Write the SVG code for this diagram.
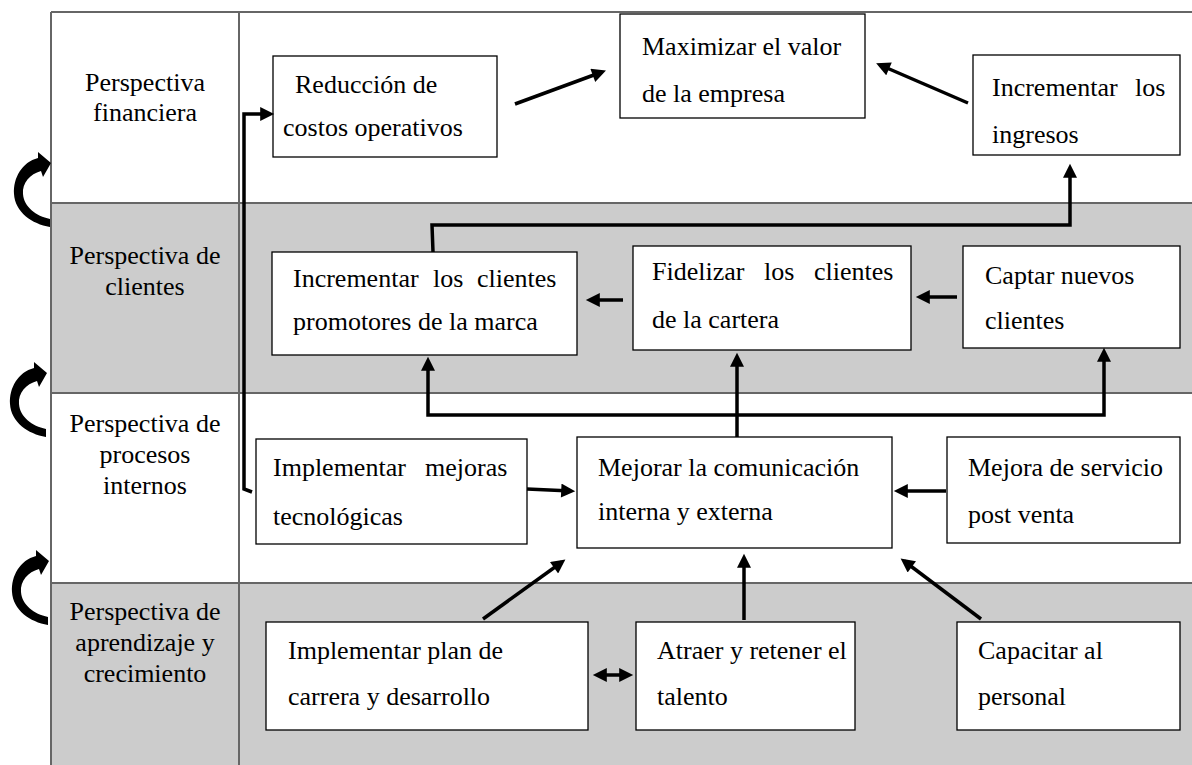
<svg xmlns="http://www.w3.org/2000/svg" width="1192" height="765" viewBox="0 0 1192 765">
<style>
.grid{stroke:#666;stroke-width:2;fill:none}
.band{fill:#cccccc}
.box{fill:#fff;stroke:#000;stroke-width:1.3}
.t{font-family:"Liberation Serif","Times New Roman",serif;font-size:26px;fill:#000}
.lbl{text-anchor:middle}
.c{fill:none;stroke:#000;stroke-width:3.5;marker-end:url(#ah)}
.curl{fill:#000}
</style>
<defs>
<marker id="ah" viewBox="0 0 10 10" refX="7" refY="5" markerUnits="userSpaceOnUse" markerWidth="16" markerHeight="14" orient="auto-start-reverse">
<path d="M0,0 L10,5 L0,10 Z" fill="#000"/>
</marker>
<path id="curl" d="M51,163 L38,152 L38,158 C22,162 13,178 14,194 C15,212 32,224 50,227 L50,219 C36,216 24,207 23,194 C22,183 30,174 41,171 L43,177 Z"/>
</defs>
<rect width="1192" height="765" fill="#fff"/>
<g id="table">
<rect class="band" x="51" y="203" width="1141" height="190"/>
<rect class="band" x="51" y="583" width="1141" height="182"/>
<path class="grid" d="M51,12 H1192 M51,203 H1192 M51,393 H1192 M51,583 H1192 M51,12 V765 M239,12 V765"/>
</g>
<g id="labels" class="t lbl">
<text x="145" y="91">Perspectiva</text>
<text x="145" y="121">financiera</text>
<text x="145" y="264">Perspectiva de</text>
<text x="145" y="295">clientes</text>
<text x="145" y="432">Perspectiva de</text>
<text x="145" y="463">procesos</text>
<text x="145" y="494">internos</text>
<text x="145" y="620">Perspectiva de</text>
<text x="145" y="651">aprendizaje y</text>
<text x="145" y="682">crecimiento</text>
</g>
<g id="cycle-arrows" class="curl">
<use href="#curl"/>
<use href="#curl" transform="translate(-4,210)"/>
<use href="#curl" transform="translate(-2,398)"/>
</g>
<g id="n-reduccion">
<rect class="box" x="273" y="56" width="224" height="101"/>
<text class="t" x="295" y="93">Reducción de</text>
<text class="t" x="283" y="136">costos operativos</text>
</g>
<g id="n-maximizar">
<rect class="box" x="620" y="14" width="245" height="104"/>
<text class="t" x="642" y="55">Maximizar el valor</text>
<text class="t" x="642" y="102">de la empresa</text>
</g>
<g id="n-ingresos">
<rect class="box" x="973" y="55" width="207" height="100"/>
<text class="t" y="96"><tspan x="992">Incrementar</tspan><tspan x="1135">los</tspan></text>
<text class="t" x="992" y="143">ingresos</text>
</g>
<g id="n-promotores">
<rect class="box" x="272" y="252" width="305" height="103"/>
<text class="t" y="287"><tspan x="293">Incrementar</tspan><tspan x="433">los</tspan><tspan x="477">clientes</tspan></text>
<text class="t" x="293" y="330">promotores de la marca</text>
</g>
<g id="n-fidelizar">
<rect class="box" x="633" y="246" width="278" height="104"/>
<text class="t" y="280"><tspan x="652">Fidelizar</tspan><tspan x="764">los</tspan><tspan x="814">clientes</tspan></text>
<text class="t" x="652" y="328">de la cartera</text>
</g>
<g id="n-captar">
<rect class="box" x="963" y="246" width="217" height="102"/>
<text class="t" x="985" y="284">Captar nuevos</text>
<text class="t" x="985" y="329">clientes</text>
</g>
<g id="n-mejoras-tec">
<rect class="box" x="256" y="439" width="271" height="105"/>
<text class="t" y="476"><tspan x="273">Implementar</tspan><tspan x="425">mejoras</tspan></text>
<text class="t" x="273" y="525">tecnológicas</text>
</g>
<g id="n-comunicacion">
<rect class="box" x="577" y="437" width="315" height="111"/>
<text class="t" x="598" y="476">Mejorar la comunicación</text>
<text class="t" x="598" y="520">interna y externa</text>
</g>
<g id="n-postventa">
<rect class="box" x="947" y="437" width="233" height="106"/>
<text class="t" x="968" y="476">Mejora de servicio</text>
<text class="t" x="968" y="523">post venta</text>
</g>
<g id="n-carrera">
<rect class="box" x="266" y="622" width="322" height="108"/>
<text class="t" x="288" y="659">Implementar plan de</text>
<text class="t" x="288" y="705">carrera y desarrollo</text>
</g>
<g id="n-talento">
<rect class="box" x="636" y="622" width="219" height="108"/>
<text class="t" x="657" y="659">Atraer y retener el</text>
<text class="t" x="657" y="705">talento</text>
</g>
<g id="n-capacitar">
<rect class="box" x="957" y="622" width="223" height="108"/>
<text class="t" x="978" y="659">Capacitar al</text>
<text class="t" x="978" y="705">personal</text>
</g>
<g id="connectors">
<path class="c" d="M515,104 L602,72"/>
<path class="c" d="M968,103 L880,65"/>
<path class="c" d="M433,252 L432,225 L1070,225 L1070,168"/>
<path class="c" d="M623,300 L590,300"/>
<path class="c" d="M957,297 L920,297"/>
<path class="c" d="M737,437 L737,357"/>
<path class="c" style="marker-start:url(#ah)" d="M428,361 L428,415 L1104,415 L1104,352"/>
<path class="c" d="M252,492 L244,489 L244,114 L270,114"/>
<path class="c" d="M527,489 L571,491"/>
<path class="c" d="M946,491 L898,491"/>
<path class="c" d="M483,619 L562,562"/>
<path class="c" d="M744,620 L744,558"/>
<path class="c" d="M981,619 L904,561"/>
<path class="c" style="marker-start:url(#ah)" d="M597,675 L629,675"/>
</g>
</svg>
